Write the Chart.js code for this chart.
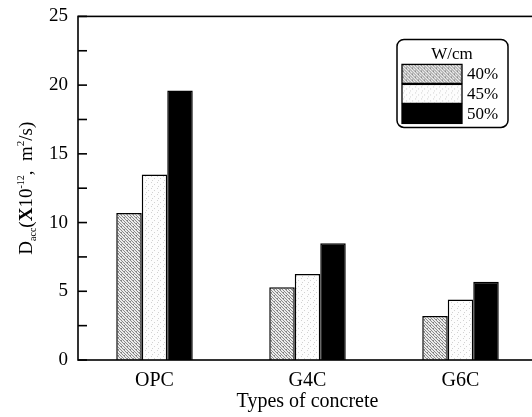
<!DOCTYPE html>
<html>
<head>
<meta charset="utf-8">
<script src="https://cdn.jsdelivr.net/npm/chart.js@4/dist/chart.umd.min.js"></script>
<style>
  html, body { margin: 0; padding: 0; background: #fff; overflow: hidden; }
  #wrap { width: 540px; height: 422px; margin-top: -5px; }
</style>
</head>
<body>
<div id="wrap"><canvas id="chart1"></canvas></div>
<script>
'use strict'

var categories = ['OPC', 'G4C', 'G6C'];
var seriesNames = ['40%', '45%', '50%'];
var vals40 = [10.7, 5.3, 3.2];
var vals45 = [13.5, 6.25, 4.4];
var vals50 = [19.6, 8.5, 5.7];
var yTicks = [0, 5, 10, 15, 20, 25];
var yMinor = [2.5, 7.5, 12.5, 17.5, 22.5];
var legendTitle = 'W/cm';
var xTitle = 'Types of concrete';

var serif = '"Liberation Serif", "Times New Roman", serif';

///////////////////////////////////////////////////////////////////
// halftone fills for the two grey bars (tile = list of dark pixels)
function halftone(bg, dot, dots){
  var c = document.createElement('canvas');
  c.width = 6;
  c.height = 6;
  var g = c.getContext('2d');
  g.fillStyle = bg;
  g.fillRect(0, 0, 6, 6);
  g.fillStyle = dot;
  for (var i = 0; i < dots.length; i++) {
    g.fillRect(dots[i][0], dots[i][1], 1, 1);
  }
  return g.createPattern(c, 'repeat');
}

var fill40 = halftone('#ececec', '#8a8a8a', [
  [0,0],[3,0],[1,1],[4,1],[2,2],[5,2],[0,3],[3,3],
  [1,4],[4,4],[2,5],[5,5],[4,0],[1,3]
]);
var fill45 = halftone('#fdfdfd', '#d2d2d2', [[1,1],[4,3],[2,5]]);

///////////////////////////////////////////////////////////////////
function roundBox(ctx, x, y, w, h, r){
  ctx.beginPath();
  ctx.moveTo(x + r, y);
  ctx.arcTo(x + w, y, x + w, y + h, r);
  ctx.arcTo(x + w, y + h, x, y + h, r);
  ctx.arcTo(x, y + h, x, y, r);
  ctx.arcTo(x, y, x + w, y, r);
  ctx.closePath();
}

///////////////////////////////////////////////////////////////////
// frame, inward ticks, y label with sub/superscripts, legend
var extras = {
  id: 'extras',
  afterDraw: function(chart){
    var ctx = chart.ctx;
    var area = chart.chartArea;
    var y = chart.scales.y;
    var dy = area.top - 15; // page is shifted so the frame top sits at y=15
    ctx.save();
    ctx.strokeStyle = '#000';
    ctx.lineWidth = 1.6;
    ctx.strokeRect(area.left, area.top, area.right - area.left, area.bottom - area.top);

    var all = yTicks.concat(yMinor);
    for (var i = 0; i < all.length; i++) {
      var py = y.getPixelForValue(all[i]);
      ctx.beginPath();
      ctx.moveTo(area.left, py);
      ctx.lineTo(area.left + 9, py);
      ctx.stroke();
    }

    // y axis label
    var parts = [
      {t: 'D', size: 19, shift: 0},
      {t: 'acc', size: 10, shift: 4},
      {t: '(', size: 19, shift: 0},
      {t: 'X', size: 19, shift: 0, bold: true},
      {t: '10', size: 19, shift: 0},
      {t: '-12', size: 10, shift: -8},
      {t: ',  m', size: 19, shift: 0},
      {t: '2', size: 11, shift: -8},
      {t: '/s)', size: 19, shift: 0}
    ];
    var total = 0;
    for (var j = 0; j < parts.length; j++) {
      ctx.font = (parts[j].bold ? 'bold ' : '') + parts[j].size + 'px ' + serif;
      parts[j].w = ctx.measureText(parts[j].t).width;
      total += parts[j].w;
    }
    var midY = (area.top + area.bottom) / 2;
    ctx.translate(32, midY);
    ctx.rotate(-Math.PI / 2);
    ctx.fillStyle = '#000';
    ctx.textBaseline = 'alphabetic';
    ctx.textAlign = 'left';
    var px = -total / 2;
    for (var k = 0; k < parts.length; k++) {
      ctx.font = (parts[k].bold ? 'bold ' : '') + parts[k].size + 'px ' + serif;
      ctx.fillText(parts[k].t, px, parts[k].shift);
      px += parts[k].w;
    }
    ctx.setTransform(1, 0, 0, 1, 0, 0);

    // legend
    ctx.translate(0, dy);
    ctx.lineWidth = 1.5;
    roundBox(ctx, 397, 38, 111, 88, 7);
    ctx.fillStyle = '#fff';
    ctx.fill();
    ctx.stroke();
    ctx.fillStyle = '#000';
    ctx.font = '17px ' + serif;
    ctx.textAlign = 'center';
    ctx.textBaseline = 'middle';
    ctx.fillText(legendTitle, 452, 53);
    var rows = [63, 83, 103];
    var ds = chart.data.datasets;
    for (var m = 0; m < ds.length; m++) {
      ctx.fillStyle = ds[m].backgroundColor;
      ctx.fillRect(402, rows[m], 60, 19);
      ctx.lineWidth = 1.3;
      ctx.strokeRect(402, rows[m], 60, 19);
      ctx.fillStyle = '#000';
      ctx.textAlign = 'left';
      ctx.fillText(ds[m].label, 467, rows[m] + 10);
    }
    ctx.restore();
  }
};

///////////////////////////////////////////////////////////////////
function makeChart(){
  var ctx = document.getElementById('chart1').getContext('2d');
  var chart = new Chart(ctx, {
    type: 'bar',
    data: {
      labels: categories,
      datasets: [
        {label: seriesNames[0], data: vals40, backgroundColor: fill40},
        {label: seriesNames[1], data: vals45, backgroundColor: fill45},
        {label: seriesNames[2], data: vals50, backgroundColor: '#000'}
      ]
    },
    options: {
      responsive: true,
      maintainAspectRatio: false,
      animation: false,
      devicePixelRatio: 1,
      layout: {padding: {top: 10, right: 3, left: 0, bottom: 0}},
      datasets: {
        bar: {
          borderColor: '#000',
          borderWidth: 1.5,
          categoryPercentage: 0.5,
          barPercentage: 1.0
        }
      },
      plugins: {
        legend: {display: false},
        tooltip: {enabled: false}
      },
      scales: {
        x: {
          grid: {display: false, drawTicks: false},
          border: {display: false},
          ticks: {color: '#000', padding: 9, font: {family: serif, size: 20}},
          title: {
            display: true,
            text: xTitle,
            color: '#000',
            padding: {top: 0, bottom: 3},
            font: {family: serif, size: 20}
          },
          afterFit: function(scale){ scale.height = 57; }
        },
        y: {
          min: 0,
          max: 25,
          grid: {display: false, drawTicks: false},
          border: {display: false},
          afterBuildTicks: function(scale){
            scale.ticks = yTicks.map(function(v){ return {value: v}; });
          },
          ticks: {color: '#000', padding: 10, font: {family: serif, size: 19}},
          afterFit: function(scale){ scale.width = 78; }
        }
      }
    },
    plugins: [extras]
  });
  return chart;
}

makeChart();
</script>
</body>
</html>
